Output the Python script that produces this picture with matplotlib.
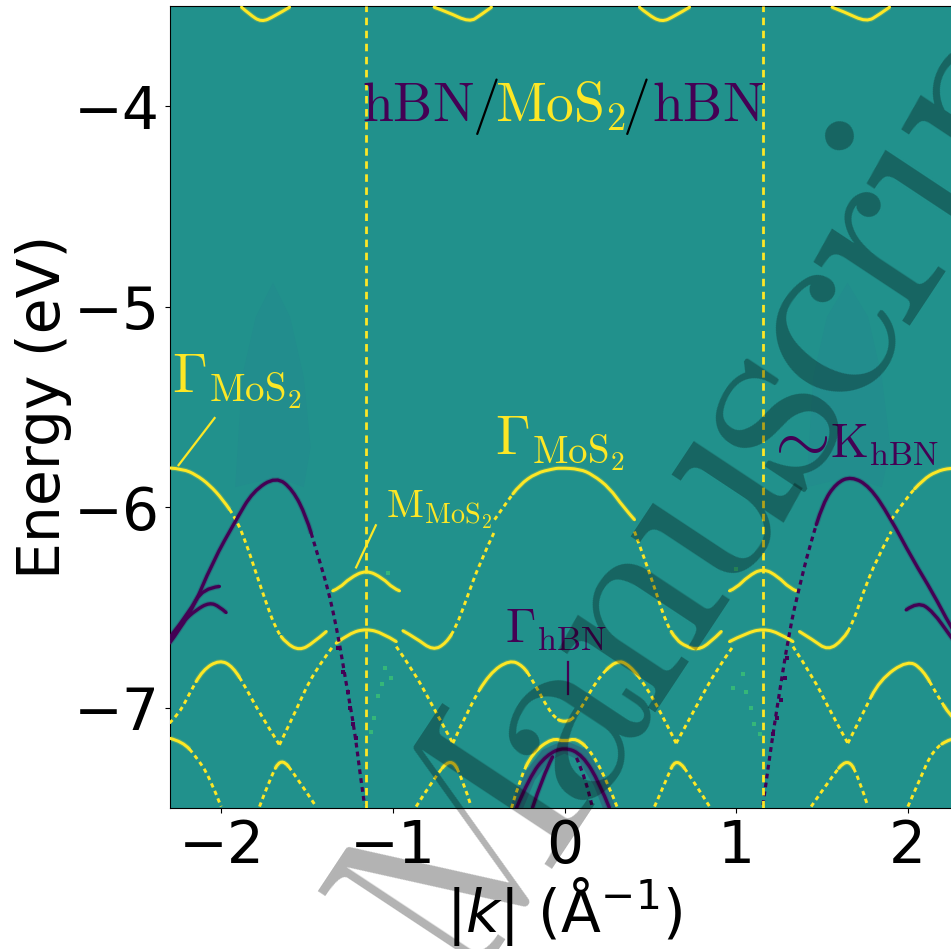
import matplotlib
matplotlib.use('Agg')
import matplotlib.pyplot as plt
from matplotlib.path import Path
from matplotlib.patches import PathPatch
import numpy as np

# yellow bands (MoS2): k in 1/A, E in eV
mos2_k = [
    [-2.303, -2.225, -2.148, -2.070, -1.992, -1.914, -1.856, -1.798, -1.739, -1.681, -1.623, -1.545, -1.467, -1.389],
    [-1.331, -1.253, -1.156, -1.059, -0.981],
    [-0.942, -0.865, -0.767, -0.690, -0.631, -0.573, -0.495, -0.408],
    [-0.408, -0.340, -0.262, -0.165, -0.068, -0.029, 0.088, 0.165, 0.263, 0.340, 0.408],
    [0.408, 0.476, 0.535, 0.593, 0.651, 0.710, 0.778, 0.846, 0.914],
    [0.962, 1.059, 1.157, 1.254, 1.332],
    [1.370, 1.448, 1.536, 1.623, 1.681, 1.740, 1.818, 1.905],
    [1.905, 1.992, 2.090, 2.167, 2.251, 2.300],
    [-1.351, -1.312, -1.253, -1.156, -1.059, -1.001, -0.962],
    [0.962, 1.001, 1.069, 1.157, 1.244, 1.312, 1.351],
    [-2.303, -2.245, -2.186, -2.109, -2.011, -1.934, -1.856, -1.778, -1.662],
    [-1.662, -1.564, -1.467, -1.351],
    [-0.981, -0.884, -0.767, -0.651],
    [-0.651, -0.554, -0.437, -0.320, -0.243, -0.187, -0.070, 0.000, 0.070, 0.187, 0.301, 0.379, 0.476, 0.574, 0.651],
    [0.651, 0.768, 0.885, 0.982],
    [1.332, 1.448, 1.545, 1.652],
    [1.652, 1.740, 1.837, 2.002, 2.090, 2.167, 2.251, 2.300],
    [-2.303, -2.225, -2.148, -2.070, -2.002],
    [-1.778, -1.720, -1.652, -1.564, -1.448],
    [-0.865, -0.767, -0.661, -0.593, -0.544],
    [-0.309, -0.262, -0.187, -0.070, 0.000, 0.070, 0.163, 0.262, 0.309],
    [0.525, 0.593, 0.651, 0.748, 0.846],
    [1.438, 1.545, 1.652, 1.720, 1.769],
    [2.002, 2.070, 2.148, 2.251, 2.300],
    [-1.883, -1.837, -1.767, -1.691, -1.603],
    [-0.760, -0.682, -0.554, -0.490, -0.426],
    [0.437, 0.484, 0.566, 0.641, 0.729],
    [1.560, 1.633, 1.761, 1.837, 1.895],
]
mos2_e = [
    [-5.804, -5.809, -5.838, -5.888, -5.962, -6.059, -6.179, -6.329, -6.478, -6.611, -6.678, -6.715, -6.678, -6.620],
    [-6.678, -6.628, -6.606, -6.628, -6.670],
    [-6.616, -6.653, -6.715, -6.678, -6.595, -6.462, -6.279, -6.121],
    [-6.062, -5.979, -5.888, -5.829, -5.809, -5.804, -5.809, -5.838, -5.904, -5.996, -6.062],
    [-6.121, -6.279, -6.428, -6.578, -6.661, -6.695, -6.711, -6.678, -6.620],
    [-6.670, -6.628, -6.606, -6.628, -6.670],
    [-6.620, -6.661, -6.715, -6.661, -6.578, -6.428, -6.262, -6.121],
    [-6.062, -5.954, -5.863, -5.821, -5.804, -5.804],
    [-6.417, -6.403, -6.354, -6.312, -6.354, -6.403, -6.417],
    [-6.417, -6.403, -6.345, -6.304, -6.345, -6.403, -6.417],
    [-7.077, -7.027, -6.928, -6.811, -6.761, -6.794, -6.903, -7.027, -7.185],
    [-7.185, -7.011, -6.828, -6.695],
    [-6.695, -6.811, -6.994, -7.177],
    [-7.177, -6.994, -6.828, -6.761, -6.790, -6.861, -7.045, -7.075, -7.045, -6.861, -6.761, -6.786, -6.894, -7.044, -7.177],
    [-7.177, -6.994, -6.811, -6.695],
    [-6.695, -6.845, -7.011, -7.177],
    [-7.177, -7.027, -6.861, -6.761, -6.811, -6.928, -7.044, -7.077],
    [-7.152, -7.169, -7.244, -7.344, -7.493],
    [-7.493, -7.360, -7.244, -7.344, -7.493],
    [-7.493, -7.360, -7.244, -7.360, -7.493],
    [-7.500, -7.360, -7.225, -7.150, -7.170, -7.150, -7.225, -7.395, -7.500],
    [-7.493, -7.360, -7.244, -7.360, -7.493],
    [-7.493, -7.360, -7.244, -7.360, -7.493],
    [-7.493, -7.360, -7.210, -7.152, -7.152],
    [-3.506, -3.541, -3.581, -3.551, -3.506],
    [-3.506, -3.530, -3.581, -3.546, -3.506],
    [-3.506, -3.541, -3.581, -3.551, -3.506],
    [-3.506, -3.530, -3.581, -3.541, -3.506],
]

# purple bands (hBN)
hbn_k = [
    [-2.303, -2.186, -2.050, -1.914, -1.817, -1.681, -1.584, -1.506, -1.448, -1.389, -1.351, -1.312, -1.273, -1.224, -1.195, -1.166],
    [-2.303, -2.225, -2.148, -2.070, -2.012, -1.973],
    [-2.303, -2.186, -2.109, -2.012],
    [1.157, 1.196, 1.234, 1.312, 1.370, 1.429, 1.507, 1.584, 1.672, 1.779, 1.895, 2.031, 2.148, 2.251, 2.300],
    [1.992, 2.060, 2.148, 2.251, 2.300],
    [-0.280, -0.204, -0.105, 0.000, 0.105, 0.204, 0.262],
    [-0.187, -0.128, -0.070],
    [0.070, 0.128, 0.163],
]
hbn_e = [
    [-6.678, -6.545, -6.270, -6.062, -5.921, -5.846, -5.913, -6.046, -6.212, -6.378, -6.512, -6.678, -6.878, -7.111, -7.310, -7.485],
    [-6.650, -6.570, -6.512, -6.475, -6.495, -6.525],
    [-6.653, -6.520, -6.404, -6.395],
    [-7.485, -7.244, -7.027, -6.611, -6.395, -6.195, -5.979, -5.879, -5.846, -5.896, -6.046, -6.262, -6.428, -6.595, -6.660],
    [-6.512, -6.470, -6.520, -6.645, -6.700],
    [-7.500, -7.345, -7.235, -7.195, -7.235, -7.375, -7.500],
    [-7.500, -7.345, -7.245],
    [-7.250, -7.360, -7.500],
]

# faint green specks beside the zone edge
speck_k = [-1.030, -1.010, -1.045, -1.065, -1.085, -1.110, -1.130, 1.000, 0.985, 1.040, 1.060, 1.085, 1.105, 1.140]
speck_e = [-6.330, -6.850, -6.800, -6.880, -6.940, -7.050, -7.120, -6.310, -6.900, -6.830, -6.920, -7.000, -7.080, -7.130]

# second dotted purple branch near the zone edge
hbn_dot_k = [-1.320, -1.290, -1.265, -1.250, -1.235, -1.215, 1.215, 1.240, 1.260, 1.285, 1.300]
hbn_dot_e = [-6.700, -6.820, -6.920, -7.000, -7.080, -7.150, -7.130, -7.050, -6.960, -6.850, -6.750]

# faint darker humps in the background above the hBN valleys
hump_k = [[-1.92, -1.88, -1.80, -1.70, -1.60, -1.52, -1.48, -1.52, -1.68, -1.92], [1.41, 1.45, 1.53, 1.65, 1.77, 1.85, 1.90, 1.85, 1.66, 1.41]]
hump_e = [[-5.90, -5.35, -5.05, -4.88, -5.05, -5.35, -5.70, -5.90, -5.85, -5.90], [-5.90, -5.35, -5.05, -4.88, -5.05, -5.35, -5.70, -5.90, -5.85, -5.90]]

zone_edge = [-1.16, 1.16]
xticks = [-2, -1, 0, 1, 2]
yticks = [-7, -6, -5, -4]
watermark = 'Manuscript'
watermark_adv = [0.917, 0.500, 0.556, 0.556, 0.394, 0.444, 0.392, 0.278, 0.556, 0.389]

yellow = plt.cm.viridis(1.0)
purple = plt.cm.viridis(0.0)
teal = plt.cm.viridis(0.5)


def draw_band(ax, k, e, color, flat_lw, steep_lw, limit):
    # read points act as control points of quadratic curves. flat stretches
    # look solid in the picture, steep ones break into dots
    pts = np.column_stack([k, e])
    n = len(pts) - 1
    anchors = [pts[0]] + [(pts[i] + pts[i + 1]) / 2 for i in range(1, n - 1)] + [pts[n]]
    steep = []
    for i in range(n - 1):
        d = anchors[i + 1] - anchors[i]
        steep.append(abs(d[1] / d[0]) > limit)
    start = 0
    for i in range(1, n):
        if i == n - 1 or steep[i] != steep[start]:
            verts = [anchors[start]]
            codes = [Path.MOVETO]
            for j in range(start, i):
                verts += [pts[j + 1], anchors[j + 1]]
                codes += [Path.CURVE3, Path.CURVE3]
            p = Path(verts, codes)
            if steep[start]:
                ax.add_patch(PathPatch(p, fc='none', ec=color, lw=steep_lw, ls=(0, (1.5, 1.3)), zorder=3))
            else:
                ax.add_patch(PathPatch(p, fc='none', ec=color, lw=flat_lw + 1.6, alpha=0.2, zorder=2))
                ax.add_patch(PathPatch(p, fc='none', ec=color, lw=flat_lw, capstyle='round', zorder=3))
            start = i


fig = plt.figure(figsize=(9.51, 9.49), dpi=100)
ax = fig.add_axes([170 / 951, 141 / 949, 789 / 951, 802 / 949])
ax.set_facecolor(teal)

for k, e in zip(hump_k, hump_e):
    ax.fill(k, e, color=plt.cm.viridis(0.485), lw=0, zorder=1)
for k, e in zip(mos2_k, mos2_e):
    draw_band(ax, k, e, yellow, 2.2, 2.1, 1.1)
for k, e in zip(hbn_k, hbn_e):
    draw_band(ax, k, e, purple, 2.4, 2.3, 2.2)
ax.plot(hbn_k[5], hbn_e[5], color=purple, lw=9, alpha=0.2, zorder=2)
ax.scatter(hbn_dot_k, hbn_dot_e, s=7, marker='s', color=purple, linewidths=0, zorder=3)
ax.scatter(speck_k, speck_e, s=5, marker='s', color='#35b779', linewidths=0, zorder=3)

for x in zone_edge:
    ax.axvline(x, color=yellow, lw=2.0, dashes=(2.7, 2.0), zorder=4)

ax.set_xlim(-2.3, 2.3)
ax.set_ylim(-7.5, -3.5)
ax.set_xticks(xticks)
ax.set_yticks(yticks)
ax.tick_params(labelsize=42)
ax.set_xlabel('$|k|$ (Å$^{-1}$)', fontsize=42, labelpad=0)
ax.set_ylabel('Energy (eV)', fontsize=42, labelpad=1.5)


# labels
def label(x, y, s, color, size):
    ax.text(x, y, s, color=color, fontsize=size, math_fontfamily='cm', zorder=5)


label(-1.178, -4.075, r'$\mathrm{hBN}$', purple, 40)
label(-0.407, -4.075, r'$\mathrm{MoS}_2$', yellow, 40)
label(0.513, -4.075, r'$\mathrm{hBN}$', purple, 40)
label(-0.540, -4.075, r'$/$', 'black', 40)
label(0.335, -4.075, r'$/$', 'black', 40)
label(-2.286, -5.428, r'$\Gamma_{\mathrm{MoS}_2}$', yellow, 40)
label(-0.403, -5.737, r'$\Gamma_{\mathrm{MoS}_2}$', yellow, 40)
label(-1.038, -6.05, r'$\mathrm{M}_{\mathrm{MoS}_2}$', yellow, 29)
label(-0.344, -6.676, r'$\Gamma_{\mathrm{hBN}}$', purple, 35)
label(1.150, -5.770, r'$\sim$', purple, 52)
label(1.550, -5.752, r'$\mathrm{K}_{\mathrm{hBN}}$', purple, 35)

ax.plot([-2.04, -2.25], [-5.555, -5.79], color=yellow, lw=1.6, zorder=4)
ax.plot([-1.10, -1.10 - 0.115], [-6.09, -6.30], color=yellow, lw=1.6, zorder=4)
ax.plot([0.02, 0.02], [-6.77, -6.93], color=purple, lw=1.6, zorder=4)

# watermark over everything, letters set one by one since it is tighter than cmr10
size = 192
angle = 56.5
em = size * 100 / 72 * 0.89
px, py = 462.0, 992.0
for ch, adv in zip(watermark, watermark_adv):
    fig.text(px / 951, 1 - py / 949, ch, family='cmr10', fontsize=size, rotation=angle,
             rotation_mode='anchor', ha='left', va='baseline', color='black', alpha=0.3, zorder=10)
    px += adv * em * np.cos(np.radians(angle))
    py -= adv * em * np.sin(np.radians(angle))

fig.savefig('out.png', dpi=100)
